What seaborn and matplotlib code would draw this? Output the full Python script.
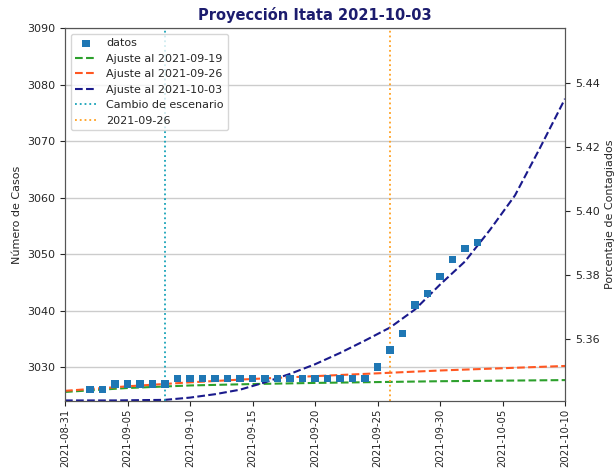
import numpy as np
import pandas as pd
import matplotlib
matplotlib.use("Agg")
import matplotlib.pyplot as plt
import matplotlib.dates as mdates
import seaborn as sns

# ---- data ----
data_dates = pd.date_range("2021-09-02", "2021-10-03", freq="D")
data_cases = [3026, 3026, 3027, 3027, 3027, 3027, 3027,
              3028, 3028, 3028, 3028, 3028, 3028, 3028, 3028,
              3028, 3028, 3028, 3028, 3028, 3028, 3028, 3028,
              3030, 3033, 3036, 3041, 3043, 3046, 3049, 3051, 3052]

fit_dates = pd.to_datetime(["2021-08-31", "2021-09-05", "2021-09-10", "2021-09-15",
                            "2021-09-20", "2021-09-25", "2021-09-30", "2021-10-05",
                            "2021-10-10"])
fit_0919 = [3025.6, 3026.3, 3026.75, 3027.0, 3027.2, 3027.35, 3027.5, 3027.6, 3027.7]
fit_0926 = [3025.8, 3026.6, 3027.3, 3027.9, 3028.4, 3028.9, 3029.4, 3029.8, 3030.2]

fit1003_dates = pd.date_range("2021-08-31", "2021-10-10", freq="2D")
fit_1003 = [3024.1, 3024.1, 3024.1, 3024.15, 3024.2, 3024.6, 3025.2, 3026.0,
            3027.3, 3028.8, 3030.5, 3032.5, 3034.7, 3037.0, 3040.2, 3044.6,
            3048.7, 3054.3, 3060.4, 3068.8, 3077.5]

cambio_date = pd.Timestamp("2021-09-08")
ref_date = pd.Timestamp("2021-09-26")

x_ticks = pd.to_datetime(["2021-08-31", "2021-09-05", "2021-09-10", "2021-09-15",
                          "2021-09-20", "2021-09-25", "2021-09-30", "2021-10-05",
                          "2021-10-10"])
right_ticks = [5.36, 5.38, 5.40, 5.42, 5.44]

sns.set_style("ticks")
plt.rcParams['font.family'] = ['DejaVu Sans']

fig = plt.figure(figsize=(6.15, 4.69), dpi=100)
ax = fig.add_axes([0.1057, 0.145, 0.813, 0.795])

df_data = pd.DataFrame({"fecha": data_dates, "casos": data_cases})
sns.scatterplot(data=df_data, x="fecha", y="casos", ax=ax, marker="s", s=28,
                color="#1f77b4", edgecolor="none", label="datos", zorder=3)

sns.lineplot(x=fit_dates, y=fit_0919, ax=ax, color="#2ca02c", linestyle="--",
             linewidth=1.5, label="Ajuste al 2021-09-19")
sns.lineplot(x=fit_dates, y=fit_0926, ax=ax, color="#ff5722", linestyle="--",
             linewidth=1.5, label="Ajuste al 2021-09-26")
sns.lineplot(x=fit1003_dates, y=fit_1003, ax=ax, color="#1a1a8c", linestyle="--",
             linewidth=1.5, label="Ajuste al 2021-10-03")
ax.axvline(cambio_date, color="#17a2b8", linestyle=":", linewidth=1.3,
           label="Cambio de escenario")
ax.axvline(ref_date, color="#ffa020", linestyle=":", linewidth=1.3,
           label="2021-09-26")

ax.set_xlim(pd.Timestamp("2021-08-31"), pd.Timestamp("2021-10-10"))
ax.set_ylim(3024, 3090)
ax.set_yticks(np.arange(3030, 3091, 10))
ax.set_xticks(x_ticks)
ax.xaxis.set_major_formatter(mdates.DateFormatter("%Y-%m-%d"))
ax.tick_params(axis="x", labelsize=7.3, labelrotation=90, pad=2)
ax.tick_params(axis="y", labelsize=8)
ax.grid(axis="y", color="#cccccc", linewidth=1)
ax.set_xlabel("")
ax.set_ylabel("Número de Casos", fontsize=8)
ax.set_title("Proyección Itata 2021-10-03", fontsize=10.5, fontweight="bold",
             color="#1c1c6e")

leg = ax.legend(loc="upper left", fontsize=8, frameon=True)

ax2 = ax.twinx()
ax2.set_ylim(5.3406, 5.4572)
ax2.set_yticks(right_ticks)
ax2.set_yticklabels([f"{t:.2f}" for t in right_ticks], fontsize=8)
ax2.set_ylabel("Porcentaje de Contagiados", fontsize=8)

for a in (ax, ax2):
    for s in a.spines.values():
        s.set_color("#555555")

fig.savefig("out.png", dpi=100)
